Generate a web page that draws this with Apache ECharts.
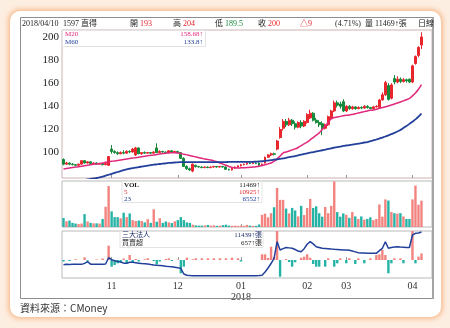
<!DOCTYPE html>
<html><head><meta charset="utf-8">
<script src="https://cdn.jsdelivr.net/npm/echarts@6/dist/echarts.min.js"></script>
<style>
html,body{margin:0;padding:0;width:450px;height:328px;overflow:hidden;background:#fdeee2;}
#card{position:absolute;left:10px;top:11px;width:431px;height:306px;background:#fff;border-radius:10px;box-shadow:0 0 5px 2px #f6bd90;}
#chart{position:absolute;left:0;top:0;width:450px;height:328px;}
</style></head>
<body><div id="card"></div><div id="chart"></div>
<script>
// ---- data ----
const dates = ['10/06','10/11','10/12','10/13','10/16','10/17','10/18','10/19','10/20','10/23','10/24','10/25','10/26','10/27','10/30','10/31',
'11/01','11/02','11/03','11/06','11/07','11/08','11/09','11/10','11/13','11/14','11/15','11/16','11/17','11/20','11/21','11/22','11/23','11/24','11/27','11/28','11/29','11/30',
'12/01','12/04','12/05','12/06','12/07','12/08','12/11','12/12','12/13','12/14','12/15','12/18','12/19','12/20','12/21','12/22','12/25','12/26','12/27','12/28','12/29',
'01/02','01/03','01/04','01/05','01/08','01/09','01/10','01/11','01/12','01/15','01/16','01/17','01/18','01/19','01/22','01/23','01/24','01/25','01/26','01/29','01/30','01/31',
'02/01','02/02','02/05','02/06','02/07','02/08','02/09','02/12','02/21','02/22','02/23','02/26','02/27',
'03/01','03/02','03/05','03/06','03/07','03/08','03/09','03/12','03/13','03/14','03/15','03/16','03/19','03/20','03/21','03/22','03/23','03/26','03/27','03/28','03/29','03/30',
'04/02','04/03','04/09','04/10'];
const openP  = [94,90,91,90,89.5,89,90,93,91,92,90.5,91,90,90.5,89.5,89,
103,101,100,99,100,99.5,101,100.5,98,104,99,100,99.5,100,99.5,104,100,101,100.5,100,101.5,100.5,
101,100,95,88,86,84,89,88,87.5,87,87.5,87,87.5,88,87.5,88,87.5,85.5,85,86.5,87.5,
88.5,89.5,90,91,90.5,91,91,89,91,96,98,99,103,113,121,127,124,128,125,122,126,123,
126,130,134,128,126,125,121,124,130,136,143,142,144,
136,140,138,139.5,138,139,138.5,140,139,138,139.5,139,145.5,150,158,147,164,161,163.5,161.5,163,163.5,
161,177,184,193];
const closeP = [90,91,90,89.5,89,90,93,91,92,90.5,91,90,90.5,89.5,90.5,96.5,
101,100,99,100,99.5,101,100.5,103,104,99,100,99.5,100,99.5,100.5,100,101,100.5,100,101.5,100.5,101,
100,95,88,86,85,90,88,87.5,87,87.5,87,87.5,88,87.5,88,87.5,85.5,85,86.5,87.5,88.5,
89.5,90,91,90.5,91,90.5,89,90,96,98,99,98.5,110,120,127,124,128,125,122,126,123,127,
133,134,128,126,124,121,124,131,136,143,141,140,136,
140,138,139.5,138,139,138.5,140,139,138,139.5,140,145.5,150,160.5,146,158.5,161,163.5,161.5,163,162,161,
175,183,191,200];
const lowP   = [89,89.5,89,89,88,88.5,89.5,90.5,90.5,90,90,89.5,89.5,89,89,88.5,
99,99,98,98.5,98.5,99,99.5,100,97,98.5,98,99,99,99,99,99.5,99.5,100,99.5,99.5,99.5,100,
99.5,94.5,87.5,85,84,83,87,87,86.5,86.5,86.5,86.5,87,87,87,87,85,84.5,84.5,86,87,
88,89,89.5,90,90,90,88.5,88.5,90.5,95.5,97,97.5,102,112,119,122,123,123,120,121,121,122,
125,129,127,125,122,115,120,123,129,135,139,138,135,
135,137,137,137,137.5,137.5,138,138,137.5,137.5,139,138.5,145,149,145,146,159,160,160,160.5,160.5,160,
160,176,182.5,189.5];
const highP  = [95,92,91.5,91,90,90.5,93.5,93.5,92.5,92.5,91.5,91.5,91,91,92,97,
106.5,102,101,101,102,102,102,104,105,104.5,100.5,101,100.5,100.5,101,108,102,101.5,101,102,102,101.5,
101.5,100.5,96,89,87,90.5,89.5,88.5,88,88,88,88,88.5,88.5,88.5,88.5,88,86,87,88,89,
90,90.5,91.5,91.5,92,91.5,91.5,90.5,96.5,98.5,100,100,111,122,129,129,130,129,127,127,128,128,
134,137,135,130,128,127,125,132,137,145,145,144,146,
141,141,140.5,140,140,140,141,141,139.5,140.5,141,146.5,152,162,160,160,167,166,165,164.5,164,164,
176,184,192,204];
const ma20 = [85.8,86.2,86.6,87.0,87.4,87.8,88.2,88.6,89.0,89.4,89.8,90.2,90.6,91.0,91.6,92.0,
92.4,92.8,93.2,93.6,94.0,94.4,94.8,95.2,95.6,96.0,96.4,96.8,97.2,97.6,97.9,98.3,98.7,99.1,99.5,99.7,99.8,99.8,
99.6,99.2,98.6,98.0,97.4,96.8,96.2,95.6,95.0,94.4,94.0,93.6,92.8,92.0,91.0,90.0,89.0,88.0,87.2,86.8,86.7,
86.8,86.9,87.0,87.2,87.5,87.8,88.2,88.8,89.4,90.2,91.0,92.5,94.5,97.0,99.6,100.5,101.4,102.3,103.2,104.4,106.0,107.5,
109.0,111.0,113.0,115.0,117.0,120.0,123.0,126.0,129.0,130.3,130.8,131.3,131.8,
132.2,132.5,133.0,133.6,134.2,134.8,135.4,136.0,136.5,136.9,137.5,138.2,138.9,139.6,140.3,141.1,142.0,142.9,143.8,144.7,145.7,146.8,
149.0,151.6,154.8,158.68];
const ma60 = [72,72.6,73.2,73.8,74.4,75,75.6,76.2,76.8,77.2,77.6,78.0,78.5,79.2,80.0,80.8,
81.6,82.4,83.2,84.0,84.8,85.5,86.0,86.5,87.0,87.5,87.9,88.3,88.7,89.1,89.5,89.8,90.1,90.4,90.7,91.0,91.2,91.4,
91.6,91.7,91.8,91.8,91.8,91.8,91.8,91.8,91.8,91.8,91.8,91.8,91.8,91.8,91.8,91.8,91.8,91.9,91.9,91.9,91.9,
91.9,91.9,91.9,91.9,92.0,92.1,92.3,92.5,92.8,93.1,93.4,93.8,94.2,94.6,95.0,95.5,96.0,96.5,97.0,97.6,98.2,98.8,
99.4,99.9,100.4,101.0,101.5,102.0,102.6,103.2,103.7,104.2,104.7,105.2,105.7,
106.1,106.5,106.9,107.3,107.7,108.2,108.7,109.1,109.8,110.5,111.3,112.1,113.0,113.9,114.9,115.9,117.0,118.2,119.5,121.2,123.0,124.8,
126.7,128.7,131.0,133.8];
const volume = [3900,2500,2800,1800,1500,1300,1500,5600,2400,1800,1600,1600,1500,3500,8800,17800,
6800,4300,4300,3800,6200,4300,5900,3000,2600,2800,2600,2000,3400,1800,7700,2300,3800,1800,2400,2000,1700,2500,
3000,4300,3000,2000,1800,1000,700,600,600,700,900,600,700,500,600,800,1000,600,500,600,500,
600,500,900,600,500,500,1100,5300,5800,4200,6000,8600,17000,11800,11800,8000,5900,8300,7200,4600,9200,5200,
8300,12200,8300,9000,6000,4500,8700,6000,9200,19800,6500,4500,5900,
5300,4000,6500,4600,3500,4600,3200,3500,4200,3000,3500,9800,4500,12000,11500,6500,6000,5800,6000,4600,3500,3500,
12000,18000,9700,11469];
const instNet = [-150,0,-100,0,80,0,0,270,-80,0,0,60,0,150,0,1430,
-670,-500,-330,-250,150,-330,500,-200,100,-150,0,80,170,0,-100,-450,-150,0,100,170,-100,0,
50,-1330,-670,230,0,80,170,0,170,0,170,0,170,0,170,0,170,0,230,0,170,
-150,0,0,0,0,0,0,570,570,200,1330,300,2900,-1670,0,100,-200,-670,-230,0,230,330,
570,230,-400,-670,-670,0,-670,170,0,-670,-330,170,0,
-330,170,0,-400,170,0,-330,0,170,0,500,570,1000,500,-1330,-330,170,0,170,-330,0,0,
2900,-330,330,657];
const instHold = [3300,3410,3350,3400,3450,3420,3400,3650,4060,3450,3400,3420,3400,3450,3480,5050,
4560,4300,4100,3980,3700,3660,3900,3900,3800,3700,3600,3550,3500,3350,3240,3150,3100,3050,2950,2880,2820,2700,
2550,2410,1000,700,620,570,580,560,570,590,570,560,570,580,570,560,570,580,570,560,570,
570,580,570,560,570,580,600,700,1500,2490,3600,4900,9040,6970,7300,7590,7500,7390,7100,6700,6550,7300,
8400,9040,8500,7790,7600,7390,7350,7300,7220,7150,7100,7050,7000,
6970,6900,6700,6500,6300,6220,6200,6180,6160,6150,6140,6800,7390,9040,7390,7600,7700,7790,7700,7650,7600,7590,
10700,11130,11200,11439];
const priceTicks = [100,120,140,160,180,200];
const header = {date:'2018/04/10', code:'1597 直得', open:'193', high:'204', low:'189.5', close:'200', chg:'△9', pct:'(4.71%)', vol:'11469↑張', period:'日線'};
const maLegend = [['M20','158.68↑'],['M60','133.8↑']];
const volLegend = [['VOL','11469↑'],['5','10925↑'],['23','6552↑']];
const instLegend = [['三大法人','11439↑張'],['買賣超','657↑張']];
const source = '資料來源：CMoney';

// ---- chart ----
const cats = dates.concat(['','','']);
const candle = dates.map((d,i)=>[openP[i],closeP[i],lowP[i],highP[i]]);
const RED='#e8262d', GRN='#178a3c', PINK='#e0287c', NAVY='#22409a', VRED='#f2837f', VTEAL='#25b3a6';
const SERIF='"Liberation Serif","Noto Sans CJK TC",serif';
const CJK='"Liberation Serif","Noto Sans CJK TC",sans-serif';
function monthStart(i,v){ if(i<=0||!v||i>=dates.length) return false; return dates[i-1].slice(0,2)!==v.slice(0,2); }
const L=62, W=370;
function xa(g,extra){ return Object.assign({type:'category',gridIndex:g,data:cats,boundaryGap:true,
  axisLine:{show:false},axisTick:{show:true,inside:true,length:3,interval:monthStart,alignWithLabel:true,lineStyle:{color:'#999'}},
  axisLabel:{show:false},splitLine:{show:false}},extra||{}); }
const chart = echarts.init(document.getElementById('chart'),null,{renderer:'canvas'});
const g=[];
function txt(x,y,s,color,size,align,font,weight){ g.push({type:'text',x:x,y:y,z:100,style:{text:s,fill:color||'#222',font:(weight||'normal')+' '+(size||8)+'px '+(font||CJK),textAlign:align||'left',textVerticalAlign:'middle'}}); }
// frame
g.push({type:'rect',z:90,shape:{x:20.5,y:17.5,width:412,height:281},style:{fill:'none',stroke:'#8d8d8d',lineWidth:1}});
g.push({type:'rect',z:91,shape:{x:432,y:17,width:2,height:282},style:{fill:'#a5a5a5'}});
// header
const hy=23.5, HS=8;
txt(22,hy,header.date,'#222',HS,'left',SERIF);
txt(63,hy,header.code,'#222',HS,'left',CJK);
txt(130,hy,'開','#222',HS); txt(140,hy,header.open,RED,HS,'left',SERIF);
txt(173,hy,'高','#222',HS); txt(183,hy,header.high,RED,HS,'left',SERIF);
txt(215,hy,'低','#222',HS); txt(225,hy,header.low,GRN,HS,'left',SERIF);
txt(258,hy,'收','#222',HS); txt(268,hy,header.close,RED,HS,'left',SERIF);
txt(300,hy,header.chg,RED,HS,'left',CJK);
txt(335,hy,header.pct,'#222',HS,'left',SERIF);
txt(365,hy,'量','#222',HS); txt(375,hy,header.vol,'#222',HS,'left',CJK);
txt(418,hy,header.period,'#222',HS,'left',CJK);
// ma legend
g.push({type:'rect',z:95,shape:{x:62.5,y:30.5,width:143,height:16},style:{fill:'rgba(255,255,255,0.92)',stroke:'#e3e3e3',lineWidth:1}});
[PINK,NAVY].forEach((c,k)=>{ txt(65,34.5+k*8,maLegend[k][0],c,7,'left',SERIF); txt(203,34.5+k*8,maLegend[k][1],c,7,'right',SERIF); });
// vol legend
g.push({type:'rect',z:95,shape:{x:122,y:181.5,width:140,height:21},style:{fill:'rgba(255,255,255,0.95)',stroke:'#e3e3e3',lineWidth:1}});
['#222',RED,NAVY].forEach((c,k)=>{ txt(124,185.5+k*7,volLegend[k][0],c,7,'left',SERIF,k==0?'bold':'normal'); txt(260,185.5+k*7,volLegend[k][1],c,7,'right',SERIF); });
// inst legend
g.push({type:'rect',z:95,shape:{x:120,y:231.5,width:143,height:16},style:{fill:'rgba(255,255,255,0.95)',stroke:'#e3e3e3',lineWidth:1}});
txt(122,235.5,instLegend[0][0],'#1f2f6a',7,'left',CJK); txt(262,235.5,instLegend[0][1],'#1f2f6a',7,'right',CJK);
txt(122,243,instLegend[1][0],'#222',7,'left',CJK); txt(262,243,instLegend[1][1],'#222',7,'right',CJK);
// source
txt(20,308,source,'#333',10,'left','"Noto Sans CJK TC","Liberation Sans",sans-serif');

chart.setOption({
  animation:false,
  backgroundColor:'transparent',
  grid:[{left:L,top:30,width:W,height:148,show:true,borderColor:'#cdb2b2',borderWidth:1},
        {left:L,top:181,width:W,height:46,show:true,borderColor:'#b9b9b9',borderWidth:1},
        {left:L,top:231,width:W,height:47,show:true,borderColor:'#b9b9b9',borderWidth:1}],
  xAxis:[xa(0),xa(1),xa(2,{axisLabel:{show:true,interval:monthStart,margin:3,color:'#333',fontFamily:SERIF,fontSize:10,lineHeight:11,
      formatter:v=>v.slice(0,2)==='01'?'01\n2018':v.slice(0,2)}})],
  yAxis:[{type:'value',gridIndex:0,min:78,max:206,axisLine:{show:false},axisTick:{show:false},splitLine:{show:false},
          axisLabel:{customValues:priceTicks,color:'#222',fontFamily:SERIF,fontSize:11,margin:3}},
         {type:'value',gridIndex:1,min:0,max:20000,show:false,splitLine:{show:false}},
         {type:'value',gridIndex:2,min:-1800,max:2900,show:false,splitLine:{show:false}},
         {type:'value',gridIndex:2,min:0,max:11700,show:false,splitLine:{show:false}}],
  series:[
    {type:'candlestick',xAxisIndex:0,yAxisIndex:0,data:candle,barWidth:2.4,
      itemStyle:{color:RED,color0:GRN,borderColor:RED,borderColor0:GRN,borderWidth:1}},
    {type:'line',xAxisIndex:0,yAxisIndex:0,data:ma20,showSymbol:false,smooth:true,lineStyle:{color:PINK,width:1.5}},
    {type:'line',xAxisIndex:0,yAxisIndex:0,data:ma60,showSymbol:false,smooth:true,lineStyle:{color:NAVY,width:1.8}},
    {type:'bar',xAxisIndex:1,yAxisIndex:1,data:volume,barWidth:2.4,
      itemStyle:{color:p=>closeP[p.dataIndex]>=openP[p.dataIndex]?VRED:VTEAL}},
    {type:'bar',xAxisIndex:2,yAxisIndex:2,data:instNet,barWidth:2.4,
      itemStyle:{color:p=>p.value>=0?VRED:VTEAL}},
    {type:'line',xAxisIndex:2,yAxisIndex:3,data:instHold,showSymbol:false,lineStyle:{color:NAVY,width:1.5}}
  ],
  graphic:g
});
</script></body></html>
